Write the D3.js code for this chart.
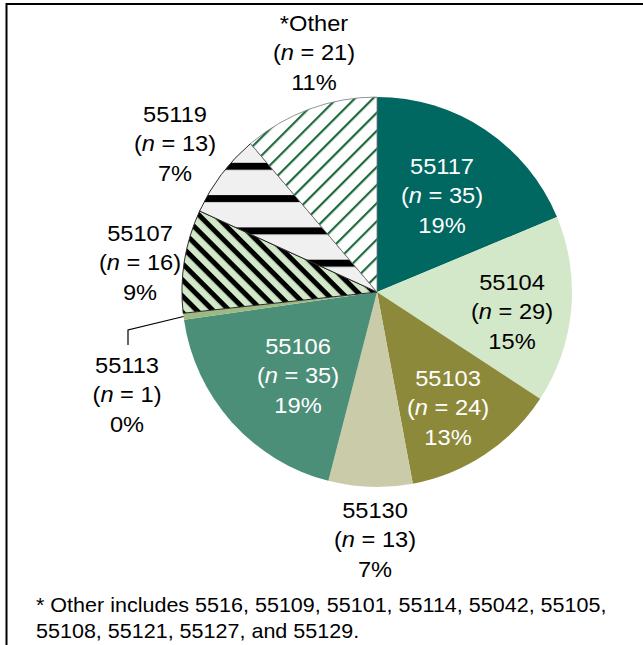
<!DOCTYPE html>
<html>
<head>
<meta charset="utf-8">
<script src="https://cdn.jsdelivr.net/npm/d3@7"></script>
<style>
  html, body { margin: 0; padding: 0; background: #fff; }
  svg { display: block; font-family: "Liberation Sans", Arial, sans-serif; }
</style>
</head>
<body>
<svg id="chart" width="643" height="645"></svg>
<script>
// ZIP codes, counts and the rounded shares printed on each slice
const zips = ["55117", "55104", "55103", "55130", "55106", "55113", "55107", "55119", "*Other"];
const counts = [35, 29, 24, 13, 35, 1, 16, 13, 21];
const shares = ["19%", "15%", "13%", "7%", "19%", "0%", "9%", "7%", "11%"];
const fills = ["#006761", "#d2e8c9", "#8c8a3a", "#cacca9", "#4c8f79", "#9dba82", "url(#diag-black)", "url(#horiz-black)", "url(#diag-green)"];
const labelInk = ["#fff", "#000", "#fff", "#000", "#fff", "#000", "#000", "#000", "#000"];
// label anchor (center of the middle line) for each slice
const labelX = [442, 512, 448, 375, 298, 127, 140, 175, 314];
const labelY = [196, 312, 408, 540, 376, 395, 263, 144, 53];
const footnote = [
  "* Other includes 5516, 55109, 55101, 55114, 55042, 55105,",
  "55108, 55121, 55127, and 55129."
];

const svg = d3.select("#chart");
const cx = 377, cy = 292, r = 195;
const stretch = 1.11; // type is set slightly wide

// fill patterns for the three hatched slices
const defs = svg.append("defs");
const p1 = defs.append("pattern").attr("id", "diag-black")
  .attr("patternUnits", "userSpaceOnUse").attr("width", 11.5).attr("height", 11.5)
  .attr("patternTransform", "rotate(45)");
p1.append("rect").attr("width", 11.5).attr("height", 11.5).attr("fill", "#d2e8c9");
p1.append("rect").attr("width", 11.5).attr("height", 5).attr("fill", "#000");

const p2 = defs.append("pattern").attr("id", "horiz-black")
  .attr("patternUnits", "userSpaceOnUse").attr("width", 32).attr("height", 32.3)
  .attr("y", 0);
p2.append("rect").attr("width", 32).attr("height", 32.3).attr("fill", "#eff0ef");
p2.append("rect").attr("y", 0).attr("width", 32).attr("height", 7).attr("fill", "#000");

const p3 = defs.append("pattern").attr("id", "diag-green")
  .attr("patternUnits", "userSpaceOnUse").attr("width", 12.8).attr("height", 12.8)
  .attr("patternTransform", "rotate(-45)");
p3.append("rect").attr("width", 12.8).attr("height", 12.8).attr("fill", "#fff");
p3.append("rect").attr("width", 12.8).attr("height", 2.2).attr("fill", "#1d6a3c");

// frame lines (top and left)
svg.append("line").attr("x1", 6.5).attr("y1", 4).attr("x2", 643).attr("y2", 4)
  .attr("stroke", "#000").attr("stroke-width", 2);
svg.append("line").attr("x1", 6.5).attr("y1", 3).attr("x2", 6.5).attr("y2", 645)
  .attr("stroke", "#000").attr("stroke-width", 2);

const slices = zips.map((z, i) => ({ zip: z, n: counts[i], share: shares[i], i }));
const pie = d3.pie().value(d => d.n).sort(null);
const arc = d3.arc().innerRadius(0).outerRadius(r);
const arcs = pie(slices);

const g = svg.append("g").attr("transform", `translate(${cx},${cy})`);
g.selectAll("path.slice").data(arcs).join("path")
  .attr("class", "slice")
  .attr("d", arc)
  .attr("fill", d => fills[d.data.i])
  .attr("stroke", d => d.data.i >= 6 && d.data.i < 8 ? "#2a2a2a" : "none")
  .attr("stroke-width", 1);
// hairline edges around the green-hatched slice
g.selectAll("path.rim").data(arcs.filter(d => d.data.i === 8)).join("path")
  .attr("class", "rim")
  .attr("d", arc)
  .attr("fill", "none").attr("stroke", "#7a7a7a").attr("stroke-width", 0.8);

// leader line for the smallest slice
const a113 = arcs[5];
const mid113 = (a113.startAngle + a113.endAngle) / 2;
const edgeX = cx + Math.sin(mid113) * r, edgeY = cy - Math.cos(mid113) * r;
svg.append("path")
  .attr("d", d3.line()([[128, 345], [128, 330], [edgeX, edgeY]]))
  .attr("fill", "none").attr("stroke", "#000").attr("stroke-width", 1.2);

// three-line labels: zip, (n = count), share
const fs = 21.3, lh = 29.5;
const labels = svg.selectAll("g.label").data(slices).join("g").attr("class", "label")
  .attr("transform", d => `translate(${labelX[d.i]},${labelY[d.i]}) scale(${stretch},1)`)
  .attr("fill", d => labelInk[d.i])
  .attr("font-size", fs).attr("text-anchor", "middle");
labels.append("text").attr("y", -lh).attr("dy", "0.35em").text(d => d.zip);
const mid = labels.append("text").attr("y", 0).attr("dy", "0.35em");
mid.append("tspan").text("(");
mid.append("tspan").attr("font-style", "italic").text("n");
mid.append("tspan").text(d => ` = ${d.n})`);
labels.append("text").attr("y", lh).attr("dy", "0.35em").text(d => d.share);

// footnote
svg.append("g").selectAll("text").data(footnote).join("text")
  .attr("transform", (d, i) => `translate(36,${605 + i * 26}) scale(${stretch},1)`)
  .attr("dy", "0.35em")
  .attr("font-size", 19.4).attr("fill", "#000").text(d => d);
</script>
</body>
</html>
